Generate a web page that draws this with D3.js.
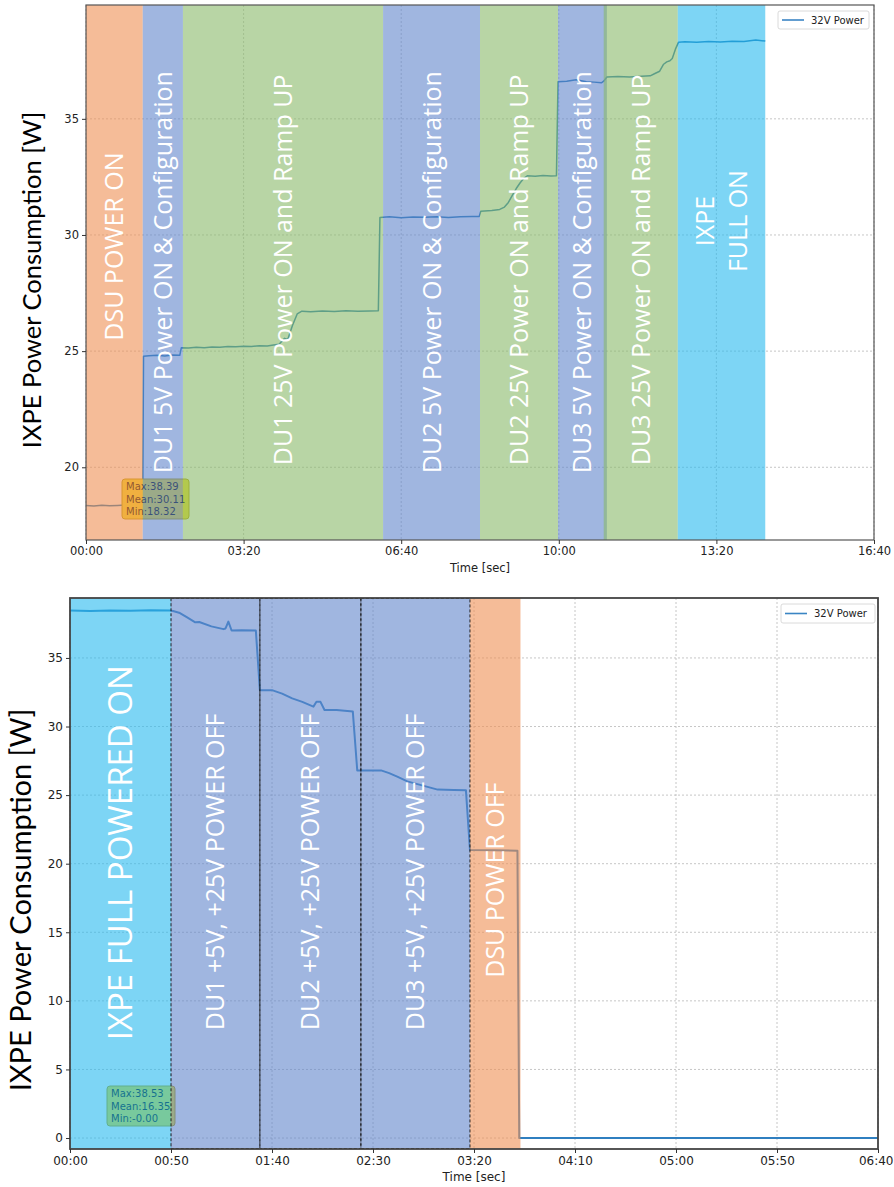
<!DOCTYPE html>
<html><head><meta charset="utf-8">
<script src="https://cdn.jsdelivr.net/npm/d3@7"></script>
<style>body{margin:0;background:#fff;} svg{display:block}</style>
</head><body><svg id="c" width="894" height="1187"></svg>
<script>
// ---------- DATA: top panel (power-on sequence) ----------
const topTime  = [0,10,20,30,40,50,60,70,72,73,80,90,100,110,119,121,130,140,150,160,170,180,190,200,210,220,230,238,245,252,256,262,268,274,285,300,315,330,345,360,371,373,385,400,415,430,445,460,475,490,499,501,515,525,531,536,541,546,551,556,560,570,580,590,597,599,610,622,635,645,654,657,661,675,690,705,716,722,728,733,737,741,744,748,752,760,775,790,805,820,835,850,862];
const topPower = [18.35,18.33,18.37,18.34,18.36,18.38,18.35,18.36,18.40,24.78,24.80,24.82,24.79,24.83,24.82,25.15,25.14,25.17,25.15,25.18,25.17,25.20,25.19,25.21,25.20,25.23,25.22,25.26,25.30,25.55,25.50,26.10,26.60,26.72,26.70,26.73,26.71,26.74,26.72,26.73,26.74,30.75,30.78,30.74,30.77,30.76,30.79,30.75,30.78,30.80,30.80,31.02,31.05,31.10,31.20,31.40,31.70,32.00,32.25,32.45,32.55,32.53,32.56,32.54,32.55,36.60,36.62,36.68,36.60,36.58,36.55,36.62,36.80,36.82,36.80,36.83,36.85,36.95,37.05,37.35,37.45,37.50,37.60,38.00,38.30,38.32,38.30,38.33,38.31,38.34,38.33,38.39,38.35];
const topBandStart = [0,72,123,377,500,599,657,751];
const topBandEnd   = [72,123,377,500,599,661,751,862];
const topBandKind  = ["orange","blue","green","blue","green","blue","green","cyan"];
const topBandLabel = [["DSU POWER ON"],["DU1 5V Power ON & Configuration"],["DU1 25V Power ON and Ramp UP"],["DU2 5V Power ON & Configuration"],["DU2 25V Power ON and Ramp UP"],["DU3 5V Power ON & Configuration"],["DU3 25V Power ON and Ramp UP"],["IXPE","FULL ON"]];
const topLabelAt   = [29.5,28.4,28.5,28.4,28.5,28.4,28.5,30.6];
const topXTicks = [0,200,400,600,800,1000];
const topXTickLabels = ["00:00","03:20","06:40","10:00","13:20","16:40"];
const topYTicks = [20,25,30,35];
const topStats = ["Max:38.39","Mean:30.11","Min:18.32"];

// ---------- DATA: bottom panel (power-off sequence) ----------
const botTime  = [0,10,20,30,40,50,51,54,58,62,64,70,76,77,78.4,80,85,92,94,100,105,110,115,120.5,122,124,126,132,140,142.2,154,158,162,167,172,177,182,190,196,198,210,221.5,222.4,230,260,300,350,400];
const botPower = [38.45,38.43,38.46,38.44,38.47,38.45,38.42,38.30,37.95,37.60,37.62,37.30,37.10,37.15,37.65,37.00,37.02,37.00,32.65,32.65,32.40,32.05,31.80,31.45,31.80,31.80,31.20,31.20,31.10,26.80,26.80,26.60,26.35,26.00,25.80,25.60,25.40,25.38,25.36,21.00,20.98,20.95,0.00,0.00,0.00,0.00,0.00,0.00];
const botBandStart = [0,50,94,144,198];
const botBandEnd   = [50,94,144,198,223];
const botBandKind  = ["cyan","blue","blue","blue","orange"];
const botBandLabel = [["IXPE FULL POWERED ON"],["DU1 +5V, +25V POWER OFF"],["DU2 +5V, +25V POWER OFF"],["DU3 +5V, +25V POWER OFF"],["DSU POWER OFF"]];
const botLabelAt   = [20.8,19.4,19.4,19.4,18.8];
const botDashedStart = [50,94,144];
const botDashedEnd   = [94,144,198];
const botXTicks = [0,50,100,150,200,250,300,350,400];
const botXTickLabels = ["00:00","00:50","01:40","02:30","03:20","04:10","05:00","05:50","06:40"];
const botYTicks = [0,5,10,15,20,25,30,35];
const botStats = ["Max:38.53","Mean:16.35","Min:-0.00"];

const seriesName = "32V Power";
const yTitle = "IXPE Power Consumption [W]";
const xTitle = "Time [sec]";

// ---------- STYLE ----------
const bandColor = {orange:"#ee8f53", blue:"#6185cb", green:"#89b969", cyan:"#26b9ee"};
const bandOpacity = 0.6;

const svg = d3.select("#c");

function panel(cfg){
  const g = svg.append("g");
  const x = d3.scaleLinear().domain(cfg.xDomain).range([cfg.left, cfg.right]);
  const y = d3.scaleLinear().domain(cfg.yDomain).range([cfg.bottom, cfg.top]);
  const clipId = "clip" + cfg.id;
  svg.append("clipPath").attr("id", clipId).append("rect")
    .attr("x", cfg.left).attr("y", cfg.top).attr("width", cfg.right-cfg.left).attr("height", cfg.bottom-cfg.top);

  // grid
  const grid = g.append("g").attr("stroke","#b8b8b8").attr("stroke-width",0.8).attr("stroke-dasharray","2,2");
  cfg.xTicks.forEach(t => grid.append("line").attr("x1",x(t)).attr("x2",x(t)).attr("y1",cfg.top).attr("y2",cfg.bottom));
  cfg.yTicks.forEach(t => grid.append("line").attr("x1",cfg.left).attr("x2",cfg.right).attr("y1",y(t)).attr("y2",y(t)));

  // line
  const pts = cfg.time.map((t,i)=>[t,cfg.power[i]]);
  g.append("path").attr("clip-path",`url(#${clipId})`)
    .attr("d", d3.line().x(d=>x(d[0])).y(d=>y(d[1]))(pts))
    .attr("fill","none").attr("stroke",cfg.lineColor).attr("stroke-width",cfg.lineWidth).attr("stroke-linejoin","round");

  // stats box (under bands)
  const sb = g.append("g");
  sb.append("rect").attr("x",cfg.stat.x).attr("y",cfg.stat.y).attr("width",cfg.stat.w).attr("height",cfg.stat.h)
    .attr("rx",3).attr("fill","#f2e123").attr("stroke","#b8a000").attr("stroke-width",1);
  cfg.stats.forEach((s,i)=> sb.append("text").attr("x",cfg.stat.x+4).attr("y",cfg.stat.y+11+i*12.5)
    .attr("font-family","DejaVu Sans").attr("font-size",10).attr("fill","#000").text(s));

  // bands
  cfg.bStart.forEach((s,i)=>{
    g.append("rect").attr("x",x(s)).attr("y",cfg.top).attr("width",x(cfg.bEnd[i])-x(s)).attr("height",cfg.bottom-cfg.top)
      .attr("fill",bandColor[cfg.bKind[i]]).attr("fill-opacity",bandOpacity);
  });

  // dashed frames
  if(cfg.dStart){
    cfg.dStart.forEach((s,i)=>{
      g.append("rect").attr("x",x(s)).attr("y",cfg.top+0.5).attr("width",x(cfg.dEnd[i])-x(s)).attr("height",cfg.bottom-cfg.top-1)
        .attr("fill","none").attr("stroke","#111").attr("stroke-width",0.9).attr("stroke-dasharray","3,2");
    });
  }

  // band labels
  cfg.bLabel.forEach((lines,i)=>{
    const cx = x((cfg.bStart[i]+cfg.bEnd[i])/2), cy = y(cfg.lAt[i]);
    const n = lines.length;
    const fs = cfg.labelSize[i];
    const t = g.append("text").attr("transform",`translate(${cx},${cy}) rotate(-90)`)
      .attr("text-anchor","middle").attr("font-family","Open Sans").attr("font-size",fs).attr("fill","#fff");
    lines.forEach((ln,k)=> t.append("tspan").attr("x",0).attr("y",(k-(n-1)/2)*fs*1.3 + fs*0.36).text(ln));
  });

  // spines
  g.append("rect").attr("x",cfg.left).attr("y",cfg.top).attr("width",cfg.right-cfg.left).attr("height",cfg.bottom-cfg.top)
    .attr("fill","none").attr("stroke",cfg.spine).attr("stroke-width",cfg.spineW);

  // axes
  const xa = g.append("g").attr("transform",`translate(0,${cfg.bottom})`)
    .call(d3.axisBottom(x).tickValues(cfg.xTicks).tickFormat((d,i)=>cfg.xTickLabels[i]).tickSize(4).tickPadding(3));
  const ya = g.append("g").attr("transform",`translate(${cfg.left},0)`)
    .call(d3.axisLeft(y).tickValues(cfg.yTicks).tickFormat(d3.format("d")).tickSize(4).tickPadding(3));
  [xa,ya].forEach(a=>{
    a.select(".domain").remove();
    a.selectAll("line").attr("stroke","#333");
    a.selectAll("text").attr("font-family","DejaVu Sans").attr("font-size",cfg.tickSize).attr("fill","#222");
  });
  // keep the last x tick label inside the page
  const xl = xa.selectAll("text").nodes();
  const last = xl[xl.length-1];
  const bb = last.getBBox(); const tr = cfg.right;
  const over = tr + bb.width/2 - 893;
  if(over > 0) d3.select(last).attr("dx", -over);

  g.append("text").attr("x",(cfg.left+cfg.right)/2).attr("y",cfg.xTitleY).attr("text-anchor","middle")
    .attr("font-family","DejaVu Sans").attr("font-size",cfg.tickSize).attr("fill","#222").text(xTitle);
  g.append("text").attr("transform",`translate(${cfg.yTitleX},${cfg.yTitleY}) rotate(-90)`).attr("text-anchor","middle")
    .attr("font-family","Lato").attr("font-size",cfg.yTitleSize).attr("fill","#000").text(yTitle);

  // legend
  const L = cfg.legend;
  g.append("rect").attr("x",L.x).attr("y",L.y).attr("width",L.w).attr("height",L.h).attr("rx",2)
    .attr("fill","#fff").attr("stroke","#d0d0d0").attr("stroke-width",0.8);
  g.append("line").attr("x1",L.x+4).attr("x2",L.x+26).attr("y1",L.y+L.h/2).attr("y2",L.y+L.h/2)
    .attr("stroke","#3a85c4").attr("stroke-width",1.6);
  g.append("text").attr("x",L.x+33).attr("y",L.y+L.h/2+3.5).attr("font-family","DejaVu Sans").attr("font-size",10)
    .attr("fill","#222").text(seriesName);
}

panel({id:"top", left:86, right:874, top:5, bottom:540, xDomain:[0,1000], yDomain:[16.87,39.9],
  time:topTime, power:topPower, lineColor:"#1f77b4", lineWidth:1.5,
  bStart:topBandStart, bEnd:topBandEnd, bKind:topBandKind, bLabel:topBandLabel, lAt:topLabelAt,
  labelSize:[25,25,25,25,25,25,25,25],
  xTicks:topXTicks, xTickLabels:topXTickLabels, yTicks:topYTicks, tickSize:11.5,
  stats:topStats, stat:{x:122,y:479,w:67,h:40},
  spine:"#555", spineW:1.2, xTitleY:572, yTitleX:41, yTitleY:280, yTitleSize:25.5,
  legend:{x:778,y:11,w:91,h:18}});

panel({id:"bot", left:70, right:878, top:598, bottom:1149, xDomain:[0,400], yDomain:[-0.8,39.37],
  time:botTime, power:botPower, lineColor:"#2f7fc0", lineWidth:2,
  bStart:botBandStart, bEnd:botBandEnd, bKind:botBandKind, bLabel:botBandLabel, lAt:botLabelAt,
  labelSize:[33,25,25,25,25],
  dStart:botDashedStart, dEnd:botDashedEnd,
  xTicks:botXTicks, xTickLabels:botXTickLabels, yTicks:botYTicks, tickSize:12,
  stats:botStats, stat:{x:107,y:1086,w:68,h:40},
  spine:"#444", spineW:1.8, xTitleY:1181, yTitleX:31, yTitleY:900, yTitleSize:29,
  legend:{x:781,y:604,w:94,h:19}});
</script></body></html>
